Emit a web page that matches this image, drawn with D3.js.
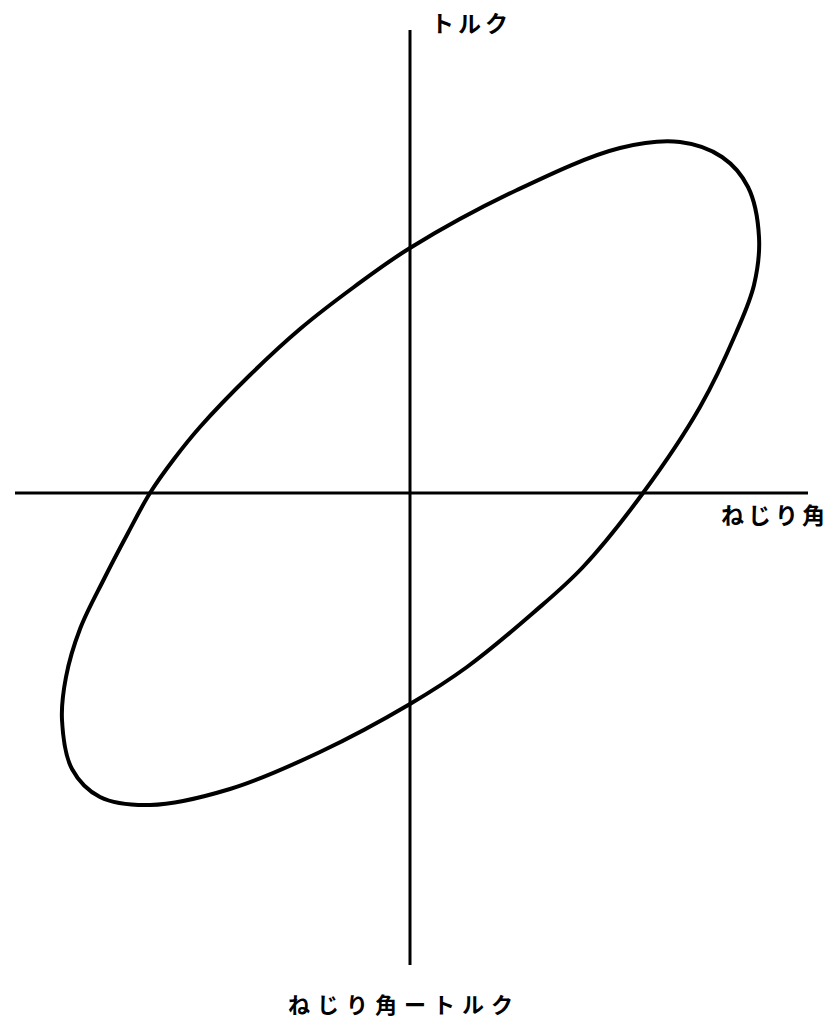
<!DOCTYPE html>
<html><head><meta charset="utf-8">
<script src="https://cdn.jsdelivr.net/npm/d3@7"></script>
<style>html,body{margin:0;padding:0;background:#fff;}svg{display:block;}</style>
</head><body>
<script>
// Loop of twist angle (ねじり角) vs torque (トルク), arbitrary units
const angle = [67.5,78,84.5,87.25,86,81.5,72.5,58.25,43.25,30.75,14.25,0,-22.5,-45,-65,-77.5,-84.5,-87,-86,-82.5,-76.5,-70.5,-65,-59,-52.5,-40,-27.5,-14,0,26.75,52.5];
const torque = [87.75,84,76.5,64,52,40,21.5,0,-18.5,-30,-43.5,-52.75,-64.75,-74,-78,-76,-69,-56.75,-46,-34,-21.5,-10,0,8.5,16.5,29.5,41,51.5,61.25,75.75,86.25];
const xAxisExtent = [-98.75, 99.5];
const yAxisExtent = [-118, 115.75];
const xLabel = "ねじり角";
const yLabel = "トルク";
const caption = "ねじり角ートルク";

const W = 834, H = 1022;
const svg = d3.select("body").append("svg").attr("width", W).attr("height", H);
const x = d3.scaleLinear().domain([-100, 100]).range([10, 810]);
const y = d3.scaleLinear().domain([-118, 118]).range([965, 21]);

// axes
svg.append("line").attr("x1", x(xAxisExtent[0])).attr("x2", x(xAxisExtent[1]))
  .attr("y1", y(0)).attr("y2", y(0)).attr("stroke", "#000").attr("stroke-width", 2.8);
svg.append("line").attr("x1", x(0)).attr("x2", x(0))
  .attr("y1", y(yAxisExtent[1])).attr("y2", y(yAxisExtent[0])).attr("stroke", "#000").attr("stroke-width", 3);

// loop
const pts = angle.map((a, i) => [a, torque[i]]);
const line = d3.line().x(d => x(d[0])).y(d => y(d[1])).curve(d3.curveCatmullRomClosed.alpha(0.5));
svg.append("path").attr("d", line(pts)).attr("fill", "none").attr("stroke", "#000").attr("stroke-width", 4);

const font = "'Noto Sans CJK JP', sans-serif";
svg.append("text").attr("x", 431).attr("y", 32).text(yLabel)
  .attr("font-family", font).attr("font-size", 23).attr("font-weight", "bold").attr("letter-spacing", 4).attr("fill", "#000");
svg.append("text").attr("x", 721).attr("y", 524).text(xLabel)
  .attr("font-family", font).attr("font-size", 23).attr("font-weight", "bold").attr("letter-spacing", 4).attr("fill", "#000");
svg.append("text").attr("x", 288).attr("y", 1013).text(caption)
  .attr("font-family", font).attr("font-size", 22).attr("font-weight", "bold").attr("letter-spacing", 7).attr("fill", "#000");
</script>
</body></html>
